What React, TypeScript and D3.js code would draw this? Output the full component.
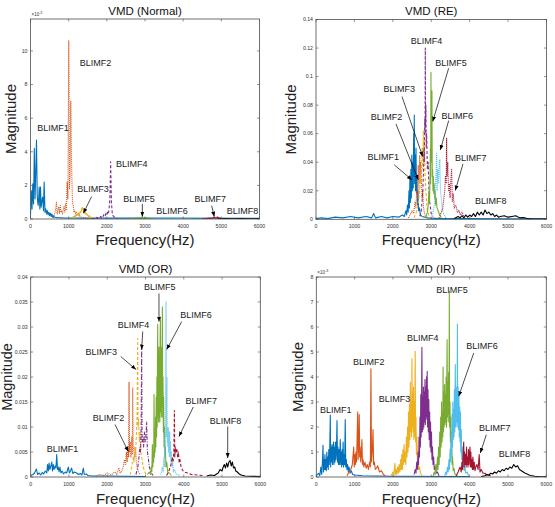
import React from "react";
import * as d3 from "d3";

type Pt = [number, number];
type Note = { text: string; at: Pt; tail?: Pt; head?: Pt };

const FREQ_TICKS = [0, 1000, 2000, 3000, 4000, 5000, 6000];
const COLORS = ["#0072BD", "#D95319", "#EDB120", "#7E2F8E", "#77AC30", "#4DBEEE", "#A2142F", "#000000"];
const SOLID = "", DOT = "1,1", DASH = "3,2", DASHDOT = "3.5,1.5,1,1.5";

// ---------- VMD (Normal), magnitude x 1e-3 ----------
const normalTicks = [0, 2, 4, 6, 8, 10];
const noB1: Pt[] = [[0,0.2],[20,1.7],[40,0.6],[60,2.1],[80,0.9],[100,4.2],[120,1.2],[140,3.0],[157,4.7],[175,1.5],[190,1.0],[200,0.8],[215,1.2],[227,1.9],[245,0.6],[262,1.9],[280,0.7],[300,1.1],[320,1.3],[340,0.5],[357,2.2],[380,0.4],[400,0.6],[420,0.3],[440,0.5],[460,0.25],[480,0.4],[500,0.2],[520,0.35],[540,0.15],[560,0.3],[580,0.1],[600,0.2],[640,0.1],[700,0.08],[900,0.06],[1500,0.05],[3000,0.05],[6000,0.04]];
const noO2: Pt[] = [[600,0.05],[620,0.2],[640,0.4],[660,0.6],[680,1.0],[700,0.3],[720,0.5],[740,0.7],[760,0.35],[780,0.8],[800,0.4],[820,0.5],[840,0.3],[860,0.6],[880,0.75],[900,0.4],[920,0.9],[940,0.5],[960,2.2],[980,1.2],[1003,10.6],[1020,1.8],[1040,2.6],[1055,7.0],[1075,3.4],[1100,1.0],[1120,0.8],[1140,0.4],[1160,0.5],[1180,0.3],[1200,0.4],[1220,0.25],[1240,0.3],[1260,0.2],[1280,0.25],[1300,0.15],[1340,0.1],[1400,0.08],[1450,0.05]];
const noY3: Pt[] = [[1100,0.05],[1120,0.15],[1140,0.1],[1160,0.2],[1180,0.15],[1200,0.25],[1220,0.2],[1240,0.3],[1260,0.35],[1280,0.25],[1300,0.45],[1320,0.4],[1340,0.6],[1355,0.7],[1380,0.5],[1400,0.55],[1420,0.35],[1440,0.4],[1460,0.25],[1480,0.3],[1500,0.2],[1520,0.15],[1540,0.2],[1560,0.1],[1580,0.12],[1600,0.08],[1620,0.1],[1640,0.05],[1660,0.06],[1680,0.03]];
const noP4: Pt[] = [[1600,0.02],[1640,0.03],[1680,0.04],[1700,0.08],[1720,0.05],[1740,0.1],[1760,0.06],[1780,0.12],[1800,0.08],[1820,0.1],[1840,0.15],[1860,0.1],[1880,0.2],[1900,0.15],[1920,0.25],[1940,0.3],[1960,0.2],[1980,0.35],[2000,0.25],[2020,0.4],[2040,0.3],[2060,0.6],[2080,1.2],[2100,3.4],[2120,1.0],[2140,0.4],[2160,0.2],[2180,0.15],[2200,0.1],[2220,0.08],[2240,0.05],[2280,0.03]];
const noG5: Pt[] = [[2600,0.01],[2700,0.03],[2750,0.05],[2800,0.04],[2850,0.08],[2900,0.06],[2930,0.12],[2960,0.05],[3000,0.08],[3050,0.04],[3100,0.05],[3150,0.02],[3200,0.01]];
const noC6: Pt[] = [[3200,0.01],[3300,0.03],[3400,0.02],[3500,0.04],[3600,0.03],[3700,0.05],[3800,0.03],[3900,0.04],[4000,0.02],[4200,0.01]];
const noR7: Pt[] = [[4500,0.01],[4600,0.03],[4700,0.05],[4750,0.04],[4800,0.1],[4850,0.06],[4900,0.12],[4950,0.05],[5000,0.03],[5100,0.01]];
const noK8: Pt[] = [[4900,0.005],[5100,0.02],[5300,0.015],[5500,0.02],[5700,0.01],[6000,0.005]];
const normalNotes: Note[] = [
  { text: "BLIMF1", at: [590, 5.45] },
  { text: "BLIMF2", at: [1700, 9.3] },
  { text: "BLIMF3", at: [1640, 1.8], tail: [1600, 1.33], head: [1385, 0.34] },
  { text: "BLIMF4", at: [2655, 3.28] },
  { text: "BLIMF5", at: [2843, 1.19], tail: [2930, 0.9], head: [2930, 0.14] },
  { text: "BLIMF6", at: [3707, 0.5] },
  { text: "BLIMF7", at: [4711, 1.18], tail: [4747, 0.79], head: [4816, 0.14] },
  { text: "BLIMF8", at: [5557, 0.5] },
];

// ---------- VMD (RE) ----------
const reTicks = [0, 0.02, 0.04, 0.06, 0.08, 0.1, 0.12, 0.14];
const reB1: Pt[] = [[0,0.0005],[150,0.001],[300,0.0005],[500,0.0015],[700,0.001],[900,0.002],[1100,0.001],[1300,0.002],[1450,0.001],[1500,0.004],[1550,0.001],[1700,0.002],[1850,0.001],[2000,0.002],[2150,0.0015],[2250,0.003],[2300,0.002],[2340,0.006],[2360,0.003],[2380,0.01],[2400,0.005],[2420,0.02],[2432,0.008],[2445,0.03],[2458,0.012],[2470,0.035],[2482,0.015],[2495,0.045],[2507,0.02],[2520,0.04],[2532,0.022],[2542,0.06],[2550,0.03],[2558,0.073],[2568,0.025],[2580,0.045],[2592,0.02],[2603,0.05],[2615,0.018],[2627,0.03],[2640,0.01],[2655,0.02],[2670,0.006],[2690,0.008],[2720,0.003],[2760,0.002],[2900,0.001],[3200,0.0005],[4000,0.0005],[6000,0.0003]];
const reO2: Pt[] = [[2400,0.001],[2450,0.003],[2500,0.006],[2540,0.004],[2580,0.012],[2600,0.008],[2620,0.02],[2640,0.015],[2660,0.038],[2680,0.02],[2700,0.045],[2710,0.025],[2720,0.04],[2740,0.03],[2760,0.015],[2780,0.02],[2800,0.008],[2820,0.005],[2850,0.002],[2900,0.001]];
const reY3: Pt[] = [[2550,0.001],[2600,0.004],[2640,0.008],[2680,0.015],[2700,0.02],[2720,0.03],[2740,0.025],[2760,0.05],[2780,0.035],[2793,0.062],[2805,0.04],[2820,0.055],[2840,0.03],[2860,0.02],[2880,0.012],[2900,0.006],[2950,0.002]];
const reP4: Pt[] = [[2700,0.002],[2740,0.006],[2760,0.012],[2780,0.02],[2800,0.035],[2810,0.05],[2820,0.04],[2830,0.07],[2838,0.06],[2845,0.12],[2852,0.065],[2860,0.08],[2870,0.05],[2880,0.06],[2900,0.035],[2920,0.04],[2940,0.02],[2960,0.012],[2980,0.008],[3000,0.004],[3050,0.002]];
const reG5: Pt[] = [[2850,0.001],[2900,0.005],[2920,0.01],[2940,0.02],[2955,0.012],[2968,0.03],[2978,0.05],[2985,0.025],[2992,0.103],[3002,0.04],[3010,0.06],[3018,0.09],[3026,0.03],[3035,0.035],[3045,0.02],[3055,0.03],[3065,0.018],[3075,0.025],[3088,0.015],[3100,0.02],[3115,0.01],[3130,0.015],[3150,0.008],[3180,0.006],[3220,0.003],[3260,0.001]];
const reC6: Pt[] = [[3000,0.001],[3050,0.005],[3080,0.01],[3100,0.02],[3120,0.03],[3140,0.046],[3150,0.02],[3170,0.035],[3190,0.025],[3210,0.04],[3225,0.042],[3240,0.02],[3260,0.015],[3280,0.008],[3320,0.004],[3380,0.001]];
const reR7: Pt[] = [[3200,0.001],[3250,0.004],[3300,0.008],[3330,0.015],[3350,0.02],[3370,0.03],[3390,0.025],[3400,0.057],[3410,0.03],[3430,0.04],[3450,0.02],[3470,0.025],[3490,0.015],[3510,0.028],[3530,0.035],[3550,0.012],[3570,0.018],[3600,0.008],[3640,0.01],[3680,0.005],[3720,0.006],[3760,0.003],[3800,0.005],[3850,0.002]];
const reK8: Pt[] = [[3600,0.0005],[3700,0.002],[3750,0.001],[3800,0.0025],[3850,0.001],[3900,0.003],[3950,0.0015],[4000,0.003],[4050,0.002],[4100,0.004],[4150,0.002],[4200,0.005],[4250,0.003],[4300,0.005],[4350,0.003],[4400,0.0065],[4450,0.004],[4500,0.005],[4550,0.003],[4600,0.004],[4650,0.002],[4700,0.003],[4750,0.0015],[4800,0.002],[4900,0.0025],[5000,0.0015],[5100,0.002],[5200,0.0025],[5300,0.001],[5400,0.0012],[5500,0.0005],[5600,0.0003],[6000,0.0002]];
const reNotes: Note[] = [
  { text: "BLIMF4", at: [2876, 0.1253] },
  { text: "BLIMF5", at: [3514, 0.1098], tail: [3454, 0.1059], head: [3038, 0.0685] },
  { text: "BLIMF3", at: [2166, 0.0912], tail: [2239, 0.086], head: [2777, 0.0439] },
  { text: "BLIMF6", at: [3678, 0.0725], tail: [3454, 0.0692], head: [3236, 0.0486] },
  { text: "BLIMF2", at: [1835, 0.0715], tail: [2082, 0.0668], head: [2663, 0.0276] },
  { text: "BLIMF1", at: [1752, 0.0435], tail: [2038, 0.0381], head: [2499, 0.0276] },
  { text: "BLIMF7", at: [4029, 0.0428], tail: [3826, 0.0388], head: [3626, 0.0201] },
  { text: "BLIMF8", at: [4550, 0.0126] },
];

// ---------- VMD (OR) ----------
const orTicks = [0, 0.005, 0.01, 0.015, 0.02, 0.025, 0.03, 0.035, 0.04];
const orB1: Pt[] = [[0,0.0003],[60,0.0005],[100,0.0008],[150,0.0016],[180,0.0005],[220,0.0008],[260,0.0004],[300,0.0009],[340,0.0006],[380,0.0012],[420,0.0008],[440,0.0025],[460,0.0012],[480,0.0028],[500,0.0015],[520,0.002],[550,0.003],[570,0.0012],[590,0.0025],[610,0.0015],[640,0.0022],[660,0.0018],[680,0.0045],[700,0.0015],[720,0.002],[740,0.001],[765,0.002],[790,0.0008],[820,0.0012],[860,0.0006],[900,0.001],[940,0.0008],[985,0.002],[1010,0.0008],[1040,0.0012],[1070,0.0018],[1100,0.0007],[1140,0.001],[1200,0.0008],[1250,0.0005],[1300,0.0007],[1340,0.0004],[1375,0.0018],[1400,0.0005],[1450,0.0006],[1500,0.0003],[1600,0.0002],[2000,0.0002],[3000,0.0001]];
const orO2: Pt[] = [[1700,0.0002],[1800,0.0005],[1900,0.0003],[2000,0.0008],[2100,0.0004],[2200,0.001],[2250,0.0005],[2300,0.0018],[2340,0.0008],[2380,0.0012],[2420,0.002],[2450,0.0035],[2480,0.0025],[2500,0.005],[2520,0.003],[2540,0.006],[2560,0.004],[2570,0.019],[2580,0.005],[2600,0.007],[2620,0.004],[2640,0.008],[2655,0.0045],[2665,0.0178],[2680,0.006],[2700,0.005],[2720,0.004],[2740,0.006],[2760,0.003],[2780,0.002],[2820,0.001],[2860,0.0005]];
const orY3: Pt[] = [[2600,0.0005],[2640,0.002],[2680,0.004],[2700,0.003],[2720,0.006],[2740,0.005],[2760,0.008],[2780,0.012],[2795,0.0277],[2805,0.01],[2820,0.0115],[2840,0.007],[2860,0.009],[2880,0.005],[2900,0.004],[2940,0.002],[2980,0.001],[3020,0.0005]];
const orP4: Pt[] = [[2750,0.0005],[2800,0.002],[2830,0.004],[2850,0.006],[2870,0.005],[2885,0.009],[2900,0.026],[2910,0.007],[2930,0.008],[2950,0.006],[2970,0.009],[2990,0.007],[3010,0.008],[3030,0.011],[3050,0.005],[3070,0.004],[3100,0.002],[3150,0.0008],[3200,0.0003]];
const orG5: Pt[] = [[3050,0.0005],[3100,0.001],[3130,0.0005],[3150,0.002],[3165,0.001],[3180,0.0065],[3192,0.002],[3205,0.005],[3215,0.003],[3223,0.0165],[3232,0.004],[3242,0.009],[3252,0.005],[3262,0.012],[3270,0.006],[3280,0.016],[3290,0.008],[3298,0.02],[3306,0.01],[3312,0.022],[3319,0.0305],[3327,0.012],[3335,0.024],[3343,0.011],[3351,0.026],[3359,0.012],[3367,0.022],[3375,0.011],[3383,0.028],[3391,0.032],[3399,0.013],[3407,0.024],[3415,0.012],[3423,0.026],[3431,0.014],[3441,0.034],[3449,0.012],[3457,0.02],[3466,0.009],[3475,0.016],[3485,0.006],[3495,0.01],[3507,0.004],[3520,0.006],[3535,0.002],[3555,0.003],[3580,0.001],[3620,0.0008],[3680,0.0003]];
const orC6: Pt[] = [[3400,0.0005],[3440,0.002],[3460,0.001],[3480,0.004],[3492,0.002],[3502,0.008],[3512,0.004],[3520,0.01],[3528,0.02],[3537,0.035],[3545,0.008],[3553,0.015],[3561,0.02],[3569,0.007],[3577,0.01],[3586,0.006],[3595,0.01],[3604,0.005],[3613,0.009],[3622,0.004],[3632,0.009],[3642,0.004],[3652,0.007],[3663,0.003],[3675,0.005],[3690,0.002],[3705,0.003],[3730,0.001],[3760,0.0015],[3800,0.0006],[3900,0.0003]];
const orR7: Pt[] = [[3550,0.0003],[3600,0.001],[3650,0.002],[3680,0.003],[3700,0.004],[3720,0.003],[3740,0.005],[3755,0.0133],[3765,0.004],[3780,0.006],[3800,0.005],[3820,0.0055],[3840,0.004],[3860,0.005],[3880,0.003],[3900,0.0035],[3930,0.002],[3960,0.0015],[4000,0.001],[4100,0.0008],[4200,0.0005],[4500,0.0003]];
const orK8: Pt[] = [[4600,0.0002],[4700,0.0004],[4800,0.0003],[4900,0.0008],[4950,0.0015],[5000,0.0012],[5030,0.002],[5060,0.0025],[5090,0.0018],[5120,0.0028],[5150,0.002],[5180,0.003],[5210,0.0033],[5240,0.0022],[5270,0.003],[5300,0.0018],[5330,0.002],[5360,0.0012],[5400,0.001],[5450,0.0006],[5500,0.0004],[5600,0.0002],[6000,0.0001]];
const orNotes: Note[] = [
  { text: "BLIMF5", at: [3374, 0.038], tail: [3352, 0.0367], head: [3352, 0.0311] },
  { text: "BLIMF6", at: [4319, 0.0324], tail: [3946, 0.0311], head: [3554, 0.0255] },
  { text: "BLIMF4", at: [2686, 0.0305], tail: [2927, 0.0291], head: [2900, 0.0255] },
  { text: "BLIMF3", at: [1842, 0.025], tail: [2352, 0.0241], head: [2751, 0.0215] },
  { text: "BLIMF7", at: [4455, 0.0153], tail: [4249, 0.014], head: [3875, 0.0081] },
  { text: "BLIMF2", at: [2033, 0.0119], tail: [2203, 0.0105], head: [2550, 0.0051] },
  { text: "BLIMF8", at: [5090, 0.0113], tail: [5148, 0.0101], head: [5148, 0.0038] },
  { text: "BLIMF1", at: [831, 0.0057] },
];

// ---------- VMD (IR), magnitude x 1e-3 ----------
const irTicks = [0, 1, 2, 3, 4, 5, 6, 7, 8];
const irB1: Pt[] = [[0,0.05],[60,0.15],[90,0.05],[120,0.4],[140,0.1],[160,0.6],[175,1.27],[188,0.2],[200,0.7],[212,0.3],[225,0.9],[238,0.3],[250,0.7],[262,0.25],[275,1.0],[288,0.4],[300,0.8],[312,0.3],[325,1.1],[338,0.5],[350,1.0],[365,2.48],[375,0.4],[388,1.2],[400,0.6],[412,1.3],[424,0.5],[436,1.0],[450,1.4],[462,0.5],[475,1.2],[488,0.6],[500,1.4],[512,0.7],[525,1.0],[540,2.26],[552,0.6],[565,1.2],[578,0.5],[590,1.1],[602,0.5],[615,0.9],[625,1.5],[637,0.5],[650,1.0],[662,0.4],[675,1.1],[688,0.5],[700,1.4],[712,0.4],[725,0.9],[740,0.5],[755,2.3],[768,0.4],[782,0.7],[800,0.3],[818,0.5],[835,0.2],[855,0.4],[880,0.15],[910,0.25],[950,0.1],[1000,0.08],[1200,0.05],[2000,0.03],[4000,0.02]];
const irO2: Pt[] = [[800,0.05],[850,0.2],[900,0.3],[940,0.5],[975,1.2],[990,0.4],[1005,0.9],[1020,0.5],[1035,1.0],[1050,0.6],[1062,1.4],[1080,2.6],[1092,0.7],[1105,1.3],[1120,2.5],[1132,0.8],[1145,1.2],[1160,0.6],[1175,0.9],[1190,1.5],[1205,0.5],[1220,0.7],[1240,0.4],[1270,0.6],[1300,0.35],[1330,0.5],[1360,0.3],[1390,0.6],[1410,0.4],[1425,4.33],[1440,0.6],[1460,1.0],[1480,1.9],[1495,0.5],[1515,0.6],[1540,0.3],[1570,0.35],[1600,0.45],[1650,0.2],[1700,0.25],[1750,0.1],[1800,0.05]];
const irY3: Pt[] = [[1950,0.05],[2000,0.2],[2020,0.05],[2050,0.55],[2065,0.1],[2080,0.3],[2100,0.1],[2120,0.4],[2140,0.15],[2160,0.5],[2180,0.2],[2200,0.7],[2215,0.3],[2230,0.9],[2245,0.3],[2260,1.1],[2275,0.5],[2290,1.3],[2305,0.6],[2320,1.0],[2335,0.5],[2350,1.6],[2365,0.8],[2380,2.0],[2392,1.0],[2405,2.6],[2418,1.2],[2430,2.9],[2442,1.5],[2452,3.8],[2462,1.8],[2475,3.0],[2485,1.6],[2495,4.73],[2505,2.0],[2515,3.4],[2525,1.8],[2535,3.6],[2545,1.5],[2555,3.0],[2565,1.6],[2580,5.03],[2590,1.4],[2600,2.4],[2612,0.9],[2625,1.6],[2640,0.6],[2655,0.9],[2670,0.3],[2690,0.4],[2720,0.15],[2760,0.05]];
const irP4: Pt[] = [[2550,0.1],[2580,0.3],[2600,0.15],[2620,0.6],[2640,0.3],[2655,1.0],[2668,0.5],[2680,1.6],[2692,0.8],[2705,2.4],[2715,1.2],[2725,3.3],[2735,1.6],[2745,3.0],[2755,5.19],[2765,1.8],[2775,3.2],[2785,1.9],[2795,3.6],[2805,2.0],[2815,3.4],[2825,2.2],[2835,3.9],[2845,2.1],[2855,3.6],[2865,2.4],[2875,4.0],[2885,2.3],[2893,4.23],[2903,2.0],[2913,3.5],[2923,1.8],[2935,3.1],[2945,1.5],[2957,2.6],[2968,1.2],[2980,2.2],[2992,1.0],[3005,1.8],[3018,0.7],[3030,1.2],[3045,0.5],[3060,0.8],[3080,0.3],[3100,0.4],[3130,0.15],[3160,0.2],[3200,0.05]];
const irG5: Pt[] = [[3050,0.05],[3080,0.2],[3100,0.1],[3120,0.5],[3140,0.2],[3160,0.8],[3175,0.3],[3190,1.2],[3205,0.5],[3220,1.8],[3232,0.8],[3245,2.4],[3257,1.2],[3268,3.0],[3280,1.4],[3290,2.6],[3300,1.6],[3307,4.4],[3316,1.8],[3326,3.4],[3336,2.0],[3346,3.7],[3356,2.1],[3366,3.3],[3376,2.2],[3386,4.0],[3396,2.0],[3404,3.6],[3412,5.5],[3422,2.4],[3432,3.8],[3442,2.2],[3452,4.2],[3462,2.5],[3470,7.43],[3478,2.0],[3488,3.0],[3498,1.4],[3508,2.4],[3518,1.0],[3530,1.8],[3542,0.5],[3555,0.8],[3570,0.25],[3590,0.35],[3620,0.1],[3680,0.05]];
const irC6: Pt[] = [[3350,0.05],[3380,0.2],[3400,0.1],[3420,0.4],[3440,0.2],[3460,0.7],[3475,0.3],[3490,1.1],[3505,0.6],[3518,1.7],[3530,0.8],[3542,2.5],[3552,1.2],[3562,3.0],[3572,1.5],[3582,2.7],[3592,1.6],[3602,3.5],[3612,1.8],[3626,4.5],[3636,2.0],[3646,3.6],[3656,2.2],[3666,3.4],[3674,2.0],[3681,6.12],[3690,2.2],[3700,3.6],[3710,1.9],[3720,3.3],[3730,1.6],[3740,2.8],[3750,1.4],[3760,2.6],[3770,1.0],[3782,1.9],[3795,0.7],[3808,1.2],[3822,0.4],[3838,0.7],[3855,0.25],[3875,0.4],[3900,0.15],[3930,0.2],[3980,0.05]];
const irR7: Pt[] = [[3650,0.05],[3700,0.2],[3750,0.4],[3780,0.2],[3800,0.6],[3815,0.3],[3830,0.9],[3845,1.4],[3858,0.4],[3870,1.0],[3882,0.5],[3895,0.9],[3908,0.4],[3920,1.2],[3932,0.5],[3945,0.8],[3958,0.4],[3970,1.1],[3982,0.5],[3995,0.9],[4008,1.2],[4020,0.4],[4032,1.0],[4045,0.4],[4058,0.7],[4072,0.3],[4085,0.8],[4100,0.3],[4120,0.6],[4140,0.25],[4160,0.4],[4190,0.5],[4220,0.3],[4250,0.9],[4270,0.2],[4300,0.3],[4350,0.15],[4400,0.15],[4450,0.08],[4550,0.05]];
const irK8: Pt[] = [[4300,0.02],[4400,0.05],[4450,0.1],[4500,0.08],[4550,0.15],[4600,0.12],[4650,0.2],[4700,0.15],[4750,0.25],[4800,0.2],[4850,0.3],[4900,0.25],[4950,0.35],[5000,0.3],[5050,0.4],[5100,0.35],[5150,0.5],[5200,0.4],[5250,0.45],[5300,0.3],[5350,0.25],[5400,0.2],[5450,0.15],[5500,0.12],[5550,0.08],[5600,0.06],[5700,0.03],[5800,0.02],[6000,0.01]];
const irNotes: Note[] = [
  { text: "BLIMF5", at: [3540, 7.47] },
  { text: "BLIMF4", at: [2779, 5.56] },
  { text: "BLIMF6", at: [4323, 5.23], tail: [4107, 4.96], head: [3715, 3.23] },
  { text: "BLIMF2", at: [1367, 4.59] },
  { text: "BLIMF3", at: [2040, 3.12] },
  { text: "BLIMF1", at: [509, 2.67] },
  { text: "BLIMF7", at: [4655, 1.97], tail: [4435, 1.69], head: [4279, 0.96] },
  { text: "BLIMF8", at: [5171, 0.93] },
];

const FONT = "'Liberation Sans', Arial, Helvetica, sans-serif";

type PanelCfg = {
  id: string;
  title: string;
  left: number; right: number; top: number; bottom: number;
  yMax: number;
  ticks: number[];
  exp: boolean;
  series: Pt[][];
  dashes: string[];
  notes: Note[];
  ylabX: number;
  ylabSize: number;
  xlabY: number;
};

const panels: PanelCfg[] = [
  { id: "p1", title: "VMD (Normal)", left: 30.5, right: 259.5, top: 19, bottom: 219, yMax: 11.9, ticks: normalTicks, exp: true,
    series: [noB1, noO2, noY3, noP4, noG5, noC6, noR7, noK8], dashes: [SOLID, DOT, SOLID, DASH, SOLID, SOLID, SOLID, SOLID],
    notes: normalNotes, ylabX: 15.5, ylabSize: 15, xlabY: 245 },
  { id: "p2", title: "VMD (RE)", left: 316, right: 546.5, top: 19.5, bottom: 219.3, yMax: 0.14, ticks: reTicks, exp: false,
    series: [reB1, reO2, reY3, reP4, reG5, reC6, reR7, reK8], dashes: [SOLID, DOT, DASH, DASH, SOLID, DOT, DOT, SOLID],
    notes: reNotes, ylabX: 296, ylabSize: 15, xlabY: 245 },
  { id: "p3", title: "VMD (OR)", left: 30.7, right: 260.3, top: 277, bottom: 477, yMax: 0.04, ticks: orTicks, exp: false,
    series: [orB1, orO2, orY3, orP4, orG5, orC6, orR7, orK8], dashes: [SOLID, DOT, DASH, DASHDOT, SOLID, DOT, DASH, SOLID],
    notes: orNotes, ylabX: 12, ylabSize: 14.5, xlabY: 504 },
  { id: "p4", title: "VMD (IR)", left: 316.3, right: 546.3, top: 277, bottom: 477, yMax: 8, ticks: irTicks, exp: true,
    series: [irB1, irO2, irY3, irP4, irG5, irC6, irR7, irK8], dashes: [SOLID, SOLID, SOLID, SOLID, SOLID, SOLID, SOLID, SOLID],
    notes: irNotes, ylabX: 302.5, ylabSize: 15, xlabY: 504 },
];

const fmt = (v: number) => String(+v.toFixed(4));

function Panel({ cfg }: { cfg: PanelCfg }) {
  const x = d3.scaleLinear().domain([0, 6000]).range([cfg.left, cfg.right]);
  const y = d3.scaleLinear().domain([0, cfg.yMax]).range([cfg.bottom, cfg.top]);
  const line = d3.line<Pt>().x(d => x(d[0])).y(d => y(d[1]));
  const axisColor = "#4d4d4d";
  const tl = 2.5;
  const cx = (cfg.left + cfg.right) / 2;
  const cy = (cfg.top + cfg.bottom) / 2;

  return (
    <g>
      <clipPath id={`clip-${cfg.id}`}>
        <rect x={cfg.left} y={cfg.top} width={cfg.right - cfg.left} height={cfg.bottom - cfg.top} />
      </clipPath>
      <g clipPath={`url(#clip-${cfg.id})`}>
        {cfg.series.map((s, i) => (
          <path key={i} d={line(s) || ""} fill="none" stroke={COLORS[i]} strokeWidth={1.1}
            strokeLinejoin="round" strokeDasharray={cfg.dashes[i] || undefined} />
        ))}
      </g>
      {/* box + ticks */}
      <rect x={cfg.left} y={cfg.top} width={cfg.right - cfg.left} height={cfg.bottom - cfg.top}
        fill="none" stroke={axisColor} strokeWidth={0.8} />
      {FREQ_TICKS.map(t => (
        <g key={"x" + t}>
          <line x1={x(t)} x2={x(t)} y1={cfg.bottom} y2={cfg.bottom - tl} stroke={axisColor} strokeWidth={0.6} />
          <line x1={x(t)} x2={x(t)} y1={cfg.top} y2={cfg.top + tl} stroke={axisColor} strokeWidth={0.6} />
          <text x={x(t)} y={cfg.bottom + 8.5} fontSize={5.2} textAnchor="middle" fill="#333">{t}</text>
        </g>
      ))}
      {cfg.ticks.map(t => (
        <g key={"y" + t}>
          <line x1={cfg.left} x2={cfg.left + tl} y1={y(t)} y2={y(t)} stroke={axisColor} strokeWidth={0.6} />
          <line x1={cfg.right} x2={cfg.right - tl} y1={y(t)} y2={y(t)} stroke={axisColor} strokeWidth={0.6} />
          <text x={cfg.left - 3} y={y(t)} dy="0.35em" fontSize={5.2} textAnchor="end" fill="#333">{fmt(t)}</text>
        </g>
      ))}
      {cfg.exp && (
        <text x={cfg.left + 1} y={cfg.top - 3} fontSize={4.5} fill="#333">
          ×10<tspan dy={-2} fontSize={3.6}>-3</tspan>
        </text>
      )}
      {/* annotations */}
      {cfg.notes.map((n, i) => (
        <g key={"n" + i}>
          {n.tail && n.head && (
            <line x1={x(n.tail[0])} y1={y(n.tail[1])} x2={x(n.head[0])} y2={y(n.head[1])}
              stroke="#000" strokeWidth={0.7} markerEnd="url(#arrowHead)" />
          )}
          <text x={x(n.at[0])} y={y(n.at[1])} dy="0.35em" fontSize={9} textAnchor="middle" fill="#1a1a1a">{n.text}</text>
        </g>
      ))}
      <text x={cx} y={cfg.top - 4.5} fontSize={11.5} textAnchor="middle" fill="#111">{cfg.title}</text>
      <text x={cx} y={cfg.xlabY} fontSize={15} textAnchor="middle" fill="#222">Frequency(Hz)</text>
      <text transform={`translate(${cfg.ylabX},${cy}) rotate(-90)`} fontSize={cfg.ylabSize} textAnchor="middle" fill="#222">Magnitude</text>
    </g>
  );
}

export default function App() {
  return (
    <svg width={555} height={507} viewBox="0 0 555 507"
      style={{ position: "absolute", left: 0, top: 0, background: "#fff", fontFamily: FONT }}>
      <defs>
        <marker id="arrowHead" viewBox="0 0 10 10" refX="10" refY="5" markerUnits="userSpaceOnUse"
          markerWidth="5" markerHeight="5" orient="auto">
          <path d="M0,1L10,5L0,9z" fill="#000" />
        </marker>
      </defs>
      {panels.map(p => <Panel key={p.id} cfg={p} />)}
    </svg>
  );
}
